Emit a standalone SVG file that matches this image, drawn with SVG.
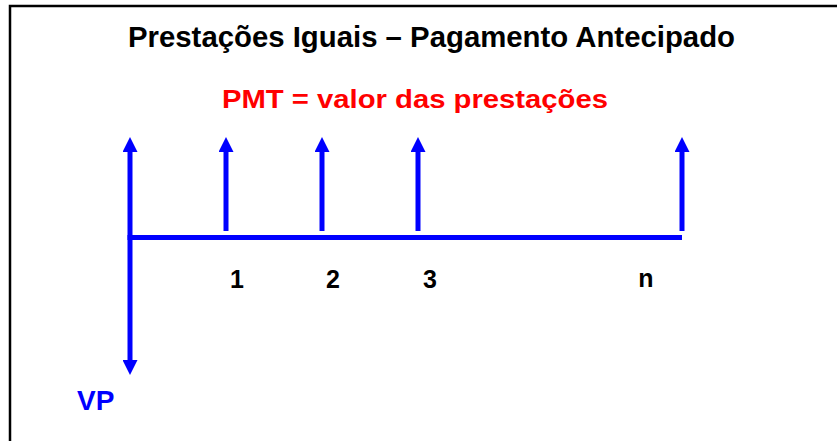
<svg xmlns="http://www.w3.org/2000/svg" width="837" height="441" viewBox="0 0 837 441">
<style>
.t{font-family:"Liberation Sans",Arial,sans-serif;font-weight:bold}
.ax{stroke:#0000FF;stroke-width:5;fill:none}
</style>
<defs>
<marker id="ah" viewBox="0 0 15 15" refX="0" refY="7.5" markerWidth="15" markerHeight="15" markerUnits="userSpaceOnUse" orient="auto">
<path d="M0,0 L15,7.5 L0,15 Z" fill="#0000FF"/>
</marker>
</defs>
<rect width="837" height="441" fill="#fff"/>
<path d="M10,441 V6 H837" stroke="#000" stroke-width="2.5" fill="none"/>
<text class="t" x="431.5" y="47" font-size="29.5" textLength="607" lengthAdjust="spacingAndGlyphs" text-anchor="middle" fill="#000">Prestações Iguais – Pagamento Antecipado</text>
<text class="t" x="415" y="108" font-size="26" textLength="386" lengthAdjust="spacingAndGlyphs" text-anchor="middle" fill="#FF0000">PMT = valor das prestações</text>
<g id="connectors">
<line class="ax" x1="130" y1="237.5" x2="682" y2="237.5"/>
<line class="ax" x1="130" y1="240" x2="130" y2="152" marker-end="url(#ah)"/>
<line class="ax" x1="130" y1="235" x2="130" y2="360" marker-end="url(#ah)"/>
<line class="ax" x1="226" y1="231" x2="226" y2="152" marker-end="url(#ah)"/>
<line class="ax" x1="322" y1="231" x2="322" y2="152" marker-end="url(#ah)"/>
<line class="ax" x1="418" y1="231" x2="418" y2="152" marker-end="url(#ah)"/>
<line class="ax" x1="682" y1="231" x2="682" y2="152" marker-end="url(#ah)"/>
</g>
<g id="n1"><text class="t" x="237" y="288" font-size="25" text-anchor="middle">1</text></g>
<g id="n2"><text class="t" x="333" y="288" font-size="25" text-anchor="middle">2</text></g>
<g id="n3"><text class="t" x="430" y="288" font-size="25" text-anchor="middle">3</text></g>
<g id="nn"><text class="t" x="646" y="287" font-size="25" text-anchor="middle">n</text></g>
<g id="vp"><text class="t" x="77" y="410" font-size="28" fill="#0000FF">VP</text></g>
</svg>
